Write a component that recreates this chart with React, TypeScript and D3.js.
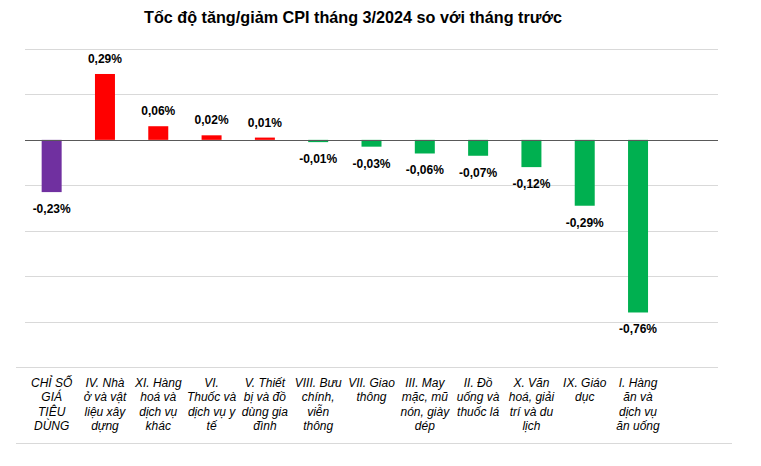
import React, { useEffect, useRef } from "react";
import * as d3 from "d3";

// categories (line breaks as shown under each bar)
const categories = [
  "CHỈ SỐ\nGIÁ\nTIÊU\nDÙNG",
  "IV. Nhà\nở và vật\nliệu xây\ndựng",
  "XI. Hàng\nhoá và\ndịch vụ\nkhác",
  "VI.\nThuốc và\ndịch vụ y\ntế",
  "V. Thiết\nbị và đồ\ndùng gia\nđình",
  "VIII. Bưu\nchính,\nviễn\nthông",
  "VII. Giao\nthông",
  "III. May\nmặc, mũ\nnón, giày\ndép",
  "II. Đồ\nuống và\nthuốc lá",
  "X. Văn\nhoá, giải\ntrí và du\nlịch",
  "IX. Giáo\ndục",
  "I. Hàng\năn và\ndịch vụ\năn uống",
];

// % change vs previous month
const values = [-0.23, 0.29, 0.06, 0.02, 0.01, -0.01, -0.03, -0.06, -0.07, -0.12, -0.29, -0.76];

const gridTicks = [-0.8, -0.6, -0.4, -0.2, 0.2, 0.4];

const title = "Tốc độ tăng/giảm CPI tháng 3/2024 so với tháng trước";

export default function App() {
  const ref = useRef<SVGSVGElement>(null);

  useEffect(() => {
    const svg = d3.select(ref.current);
    svg.selectAll("*").remove();

    const width = 761, height = 466;
    const left = 25, right = 718;

    const x = d3.scaleBand<string>()
      .domain([...categories, ""])
      .range([left, right])
      .paddingInner(0.625)
      .paddingOuter(0.3125);

    const y = d3.scaleLinear().domain([-1, 0.4]).range([367, 49]);

    svg.attr("width", width).attr("height", height);
    svg.append("rect").attr("width", width).attr("height", height).attr("fill", "#fff");

    // title
    svg.append("text")
      .attr("x", 353)
      .attr("y", 23)
      .attr("text-anchor", "middle")
      .style("font-family", "Arial, 'Liberation Sans', sans-serif")
      .style("font-weight", "bold")
      .style("font-size", "16.2px")
      .attr("fill", "#000")
      .text(title);

    // gridlines
    svg.append("g")
      .selectAll("line")
      .data(gridTicks)
      .enter().append("line")
      .attr("x1", left).attr("x2", right)
      .attr("y1", d => Math.round(y(d)) + 0.5)
      .attr("y2", d => Math.round(y(d)) + 0.5)
      .attr("stroke", "#d9d9d9")
      .attr("stroke-width", 1);

    // table-like borders around the category labels
    svg.append("line")
      .attr("x1", 16).attr("x2", right)
      .attr("y1", Math.round(y(-1)) + 0.5).attr("y2", Math.round(y(-1)) + 0.5)
      .attr("stroke", "#d9d9d9");
    svg.append("line")
      .attr("x1", 16).attr("x2", 732)
      .attr("y1", 443.5).attr("y2", 443.5)
      .attr("stroke", "#d9d9d9");

    const color = (d: number, i: number) => (i === 0 ? "#7030a0" : d >= 0 ? "#ff0000" : "#00b050");

    // bars
    svg.append("g")
      .selectAll("rect")
      .data(values)
      .enter().append("rect")
      .attr("x", (d, i) => x(categories[i])!)
      .attr("width", x.bandwidth())
      .attr("y", d => y(Math.max(0, d)))
      .attr("height", d => Math.abs(y(d) - y(0)))
      .attr("fill", color);

    // zero line
    svg.append("line")
      .attr("x1", left).attr("x2", right)
      .attr("y1", Math.round(y(0)) + 0.5).attr("y2", Math.round(y(0)) + 0.5)
      .attr("stroke", "#595959")
      .attr("stroke-width", 1);

    // value labels (comma decimal, plain hyphen for minus)
    svg.append("g")
      .selectAll("text")
      .data(values)
      .enter().append("text")
      .attr("x", (d, i) => x(categories[i])! + x.bandwidth() / 2)
      .attr("y", d => (d >= 0 ? y(d) - 11 : y(d) + 21))
      .attr("text-anchor", "middle")
      .style("font-family", "Arial, 'Liberation Sans', sans-serif")
      .style("font-weight", "bold")
      .style("font-size", "12px")
      .attr("fill", "#000")
      .text(d => d3.format(".2f")(d).replace("−", "-").replace(".", ",") + "%");

    // category labels
    const labels = svg.append("g")
      .selectAll("text")
      .data(categories)
      .enter().append("text")
      .attr("text-anchor", "middle")
      .style("font-family", "Arial, 'Liberation Sans', sans-serif")
      .style("font-style", "italic")
      .style("font-size", "12px")
      .attr("fill", "#000");

    labels.each(function (d) {
      const t = d3.select(this);
      const cx = x(d)! + x.bandwidth() / 2;
      d.split("\n").forEach((line, j) => {
        t.append("tspan")
          .attr("x", cx)
          .attr("y", 386.5 + j * 14.5)
          .text(line);
      });
    });
  }, []);

  return (
    <div style={{ position: "absolute", left: 0, top: 0 }}>
      <svg ref={ref} style={{ display: "block" }} />
    </div>
  );
}
